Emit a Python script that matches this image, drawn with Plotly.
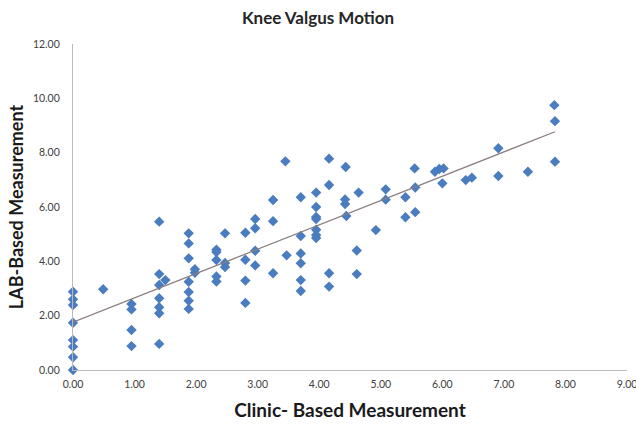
import plotly.graph_objects as go

clinic = [
    0, 0, 0, 0, 0, 0, 0, 0,
    0.49,
    0.95, 0.95, 0.95, 0.95,
    1.40, 1.40, 1.40, 1.40, 1.40, 1.40, 1.40, 1.50,
    1.88, 1.88, 1.88, 1.88, 1.88, 1.88, 1.88, 1.98, 1.98,
    2.33, 2.33, 2.33, 2.33, 2.33,
    2.47, 2.47, 2.47,
    2.80, 2.80, 2.80, 2.80,
    2.96, 2.96, 2.96, 2.96,
    3.25, 3.25, 3.25,
    3.45, 3.47,
    3.70, 3.70, 3.70, 3.70, 3.70, 3.70,
    3.95, 3.95, 3.95, 3.95, 3.95, 3.95, 3.95,
    4.16, 4.16, 4.16, 4.16,
    4.43, 4.42, 4.42, 4.44,
    4.64, 4.61, 4.61,
    4.92,
    5.08, 5.08,
    5.40, 5.40,
    5.55, 5.56, 5.56,
    5.88, 5.95, 6.02, 6.00,
    6.38, 6.48,
    6.91, 6.91,
    7.39,
    7.82, 7.83, 7.83,
]
lab = [
    2.88, 2.60, 2.39, 1.74, 1.10, 0.86, 0.47, 0.00,
    2.97,
    2.43, 2.23, 1.47, 0.88,
    5.46, 3.53, 3.13, 2.64, 2.31, 2.09, 0.96, 3.31,
    5.03, 4.66, 4.11, 3.25, 2.87, 2.55, 2.25, 3.71, 3.58,
    4.43, 4.34, 4.05, 3.44, 3.26,
    5.03, 3.94, 3.79,
    5.05, 4.06, 3.29, 2.47,
    5.56, 5.22, 4.39, 3.85,
    6.26, 5.48, 3.56,
    7.68, 4.22,
    6.36, 4.93, 4.29, 3.93, 3.31, 2.91,
    6.53, 6.00, 5.63, 5.56, 5.16, 4.97, 4.86,
    7.78, 6.81, 3.56, 3.07,
    7.47, 6.28, 6.11, 5.67,
    6.53, 4.40, 3.53,
    5.15,
    6.65, 6.27,
    6.36, 5.62,
    7.42, 6.72, 5.81,
    7.30, 7.40, 7.42, 6.87,
    6.99, 7.08,
    8.16, 7.14,
    7.30,
    9.75, 9.16, 7.67,
]

# Linear trendline end points as drawn in the chart
trend_x = [0.0, 7.83]
trend_y = [1.76, 8.77]

x_ticks = [0, 1, 2, 3, 4, 5, 6, 7, 8, 9]
y_ticks = [0, 2, 4, 6, 8, 10, 12]

font_family = "Lato, 'Open Sans', sans-serif"

fig = go.Figure()
fig.add_trace(go.Scatter(
    x=clinic, y=lab, mode="markers",
    marker=dict(symbol="diamond", size=8, color="#4a7dbf"),
    cliponaxis=False, showlegend=False,
))
fig.add_trace(go.Scatter(
    x=trend_x, y=trend_y, mode="lines",
    line=dict(color="#8a7d7d", width=1.3),
    showlegend=False,
))

fig.update_layout(
    width=636, height=424,
    margin=dict(l=73, r=9, t=44, b=54, autoexpand=False),
    paper_bgcolor="white", plot_bgcolor="white",
    font=dict(family=font_family, color="#404040"),
    title=dict(text="<b>Knee Valgus Motion</b>", x=0.5, xanchor="center",
               y=0.957, yanchor="middle",
               font=dict(size=17, color="#262626", family=font_family)),
)
fig.update_xaxes(
    range=[0, 9], tickvals=x_ticks, tickformat=".2f",
    showgrid=False, zeroline=False, automargin=False,
    showline=True, linecolor="#c3b8b8", linewidth=1.3,
    ticks="", ticklabelstandoff=4, ticklabeloverflow="allow",
    tickfont=dict(size=10.5, color="#404040"),
    title=dict(text="<b>Clinic- Based Measurement</b>",
               font=dict(size=19, color="#1a1a1a"), standoff=14),
)
fig.update_yaxes(
    range=[0, 12], tickvals=y_ticks, tickformat=".2f",
    showgrid=False, zeroline=False, automargin=False,
    showline=True, linecolor="#c3b8b8", linewidth=1.3,
    ticks="", ticklabelstandoff=10,
    tickfont=dict(size=10.5, color="#404040"),
    title=dict(text="<b>LAB-Based Measurement</b>",
               font=dict(size=18, color="#1a1a1a"), standoff=4),
)

fig.write_html(
    "out.html",
    config={"displayModeBar": False},
    post_script="document.body.style.margin='0';document.body.style.padding='0';",
)
